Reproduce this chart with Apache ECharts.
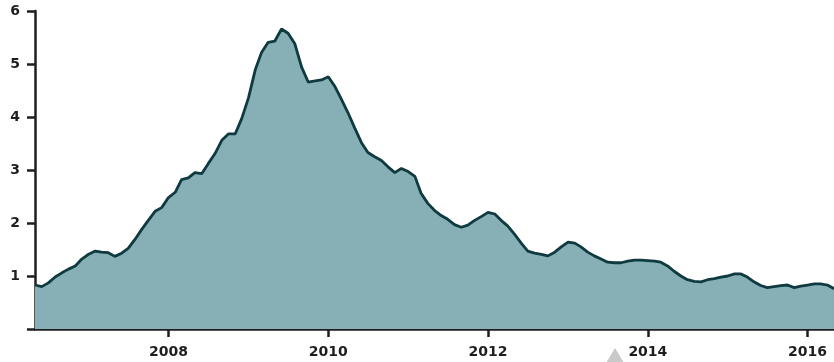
<!DOCTYPE html>
<html>
<head>
<meta charset="utf-8">
<script src="https://cdn.jsdelivr.net/npm/echarts@6/dist/echarts.min.js"></script>
<style>
  html, body { margin: 0; padding: 0; background: #fff; }
  #chart { width: 834px; height: 362px; }
</style>
</head>
<body>
<div id="chart"></div>
<script>
// Monthly observations, May 2006 to May 2016
const startYear = 2006;
const startMonth = 5;
const values = [
  0.83, 0.80, 0.87, 0.98, 1.06, 1.13, 1.19, 1.32, 1.41, 1.47,
  1.45, 1.44, 1.37, 1.43, 1.52, 1.69, 1.88, 2.05, 2.22, 2.29,
  2.48, 2.58, 2.82, 2.85, 2.95, 2.93, 3.12, 3.31, 3.56, 3.68,
  3.68, 3.97, 4.36, 4.89, 5.21, 5.41, 5.43, 5.66, 5.58, 5.38,
  4.94, 4.66, 4.68, 4.70, 4.76, 4.57, 4.34, 4.08, 3.80, 3.52,
  3.33, 3.25, 3.18, 3.06, 2.95, 3.03, 2.97, 2.88, 2.56, 2.37,
  2.24, 2.14, 2.07, 1.97, 1.92, 1.96, 2.05, 2.12, 2.20, 2.17,
  2.05, 1.94, 1.79, 1.62, 1.47, 1.43, 1.41, 1.38, 1.45, 1.55,
  1.64, 1.62, 1.55, 1.45, 1.38, 1.32, 1.26, 1.25, 1.25, 1.28,
  1.30, 1.30, 1.29, 1.28, 1.26, 1.19, 1.09, 1.00, 0.93, 0.90,
  0.89, 0.93, 0.95, 0.98, 1.00, 1.04, 1.04, 0.98, 0.89, 0.82,
  0.78, 0.80, 0.82, 0.83, 0.78, 0.81, 0.83, 0.85, 0.85, 0.83,
  0.76
];
const yearTicks = [2008, 2010, 2012, 2014, 2016];
const yTicks = [0, 1, 2, 3, 4, 5, 6];

// Pair each value with the timestamp of the first day of its month
const seriesData = values.map((v, i) => {
  const m = startMonth - 1 + i;
  return [Date.UTC(startYear + Math.floor(m / 12), m % 12, 1), v];
});
const yearTickTimes = yearTicks.map(y => Date.UTC(y, 0, 1));

const ink = '#1e1e1e';
const font = '"DejaVu Sans", sans-serif';

const chart = echarts.init(document.getElementById('chart'), null, { renderer: 'canvas' });
chart.setOption({
  animation: false,
  backgroundColor: '#ffffff',
  grid: { left: 35, right: 0, top: 11, bottom: 33, containLabel: false },
  xAxis: {
    type: 'value',
    scale: true,
    min: seriesData[0][0],
    max: seriesData[seriesData.length - 1][0],
    axisLine: { show: true, onZero: false, lineStyle: { color: ink, width: 2.5 } },
    axisTick: {
      show: true, length: 8, customValues: yearTickTimes,
      lineStyle: { color: ink, width: 2.5 }
    },
    axisLabel: {
      customValues: yearTickTimes,
      formatter: v => String(new Date(v).getUTCFullYear()),
      color: ink, fontFamily: font, fontWeight: 'bold', fontSize: 14, margin: 16
    },
    splitLine: { show: false }
  },
  yAxis: {
    type: 'value',
    min: 0, max: 6, interval: 1,
    axisLine: { show: true, lineStyle: { color: ink, width: 2.5 } },
    axisTick: { show: true, length: 8, lineStyle: { color: ink, width: 2.5 } },
    axisLabel: {
      formatter: v => (yTicks.includes(v) && v !== 0 ? String(v) : ''),
      color: ink, fontFamily: font, fontWeight: 'bold', fontSize: 14, margin: 15
    },
    splitLine: { show: false }
  },
  series: [{
    type: 'line',
    data: seriesData,
    showSymbol: false,
    smooth: false,
    lineStyle: { color: '#0f3a40', width: 2.8 },
    areaStyle: { color: '#86b0b5', opacity: 1 },
    z: 1
  }],
  graphic: [{
    type: 'polygon',
    shape: { points: [[615, 348], [603, 368], [627, 368]] },
    style: { fill: '#c9c9c9' },
    silent: true
  }]
});
</script>
</body>
</html>
